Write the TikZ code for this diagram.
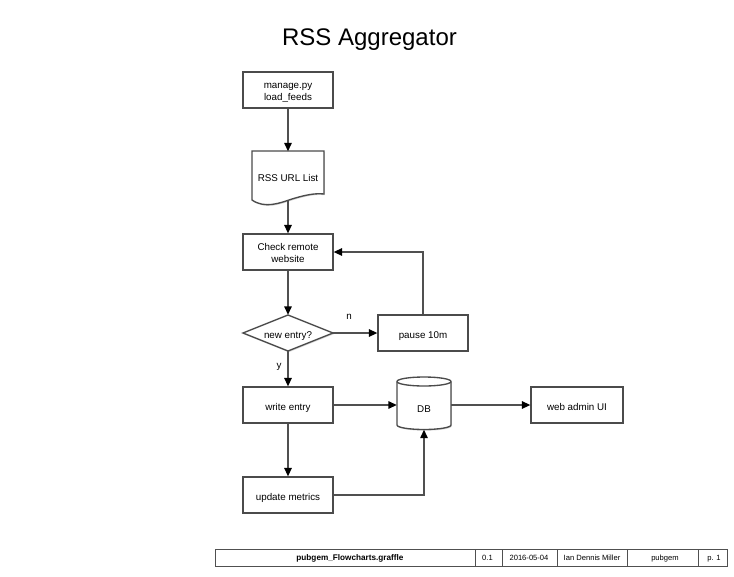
\documentclass[tikz,border=0pt]{standalone}
\usepackage{fontspec}
\setmainfont{Liberation Sans}
\usetikzlibrary{arrows.meta,shadows}
\definecolor{lc}{RGB}{80,80,80}
\definecolor{bc}{RGB}{75,75,75}
\newcommand{\fsn}{\fontsize{9.8}{11.5}\selectfont}
\newcommand{\fsf}{\fontsize{7.6}{10}\selectfont}
\newcommand{\fsb}{\fontsize{8.2}{10}\selectfont\bfseries}
\newcommand{\twol}[2]{\begin{tabular}[t]{@{}c@{}}#1\\#2\end{tabular}}
\begin{document}
\begin{tikzpicture}[x=1pt,y=-1pt,
  conn/.style={draw=lc, line width=1.4pt, -{Triangle[length=8.5pt,width=7.5pt,color=black]}},
  shad/.style={drop shadow={shadow xshift=0.8pt, shadow yshift=-1.2pt, opacity=0.3, fill=gray}},
  oneline/.style={text height=11pt, text depth=0pt},
  twoline/.style={text height=0pt, text depth=3pt},
  box/.style={draw=bc, line width=1.25pt, fill=white, minimum width=90pt, minimum height=36pt,
    inner sep=0pt, align=center, font=\fsn, shad, oneline},
  shapeline/.style={draw=bc, line width=1.35pt, fill=white, shad},
  ghost/.style={draw=none, inner sep=0pt, align=center, font=\fsn, oneline},
  lbl/.style={font=\fsn, inner sep=1pt},
  cell/.style={font=\fsf, inner sep=0pt, anchor=base}]
\useasboundingbox (0,0) rectangle (734,576);

% title
\node[anchor=base, font=\fontsize{24}{28}\selectfont, inner sep=0pt] (title) at (369.5,45.5) {RSS Aggregator};

% manage.py
\node[box, twoline] (manage) at (288,90) {\twol{manage.py}{load\_feeds}};

% document shape
\path[shapeline] (252,151) -- (324,151) -- (324,194)
  .. controls (315,193) and (305,195) .. (292,199)
  .. controls (280,203) and (265,209) .. (252,200) -- cycle;
\node[ghost, minimum width=72pt, minimum height=49pt] (doc) at (288,176) {RSS URL List};
\coordinate (docb) at (288,200.5);

% check remote
\node[box, twoline] (check) at (288,252) {\twol{Check remote}{website}};

% decision diamond
\path[shapeline] (243,333) -- (288,315) -- (333,333) -- (288,351) -- cycle;
\node[ghost, minimum width=90pt, minimum height=36pt] (dec) at (288,333) {new entry?};

% pause
\node[box] (pause) at (423,333) {pause 10m};

% write entry
\node[box] (write) at (288,405) {write entry};

% update metrics
\node[box] (update) at (288,495) {update metrics};

% DB cylinder
\path[shapeline] (397,381.5) -- (397,425) arc (180:360:27pt and 4.5pt)
  -- (451,381.5) arc (0:180:27pt and 4.5pt) -- cycle;
\draw[draw=bc, line width=1.35pt] (397,381.5) arc (180:360:27pt and 4.5pt);
\node[ghost, minimum width=54pt, minimum height=49pt] (db) at (424,405) {};
\node[ghost] (dbtext) at (424,406.5) {DB};

% web admin
\node[box, minimum width=92pt] (web) at (577,405) {web admin UI};

% connectors
\draw[conn] (manage.south) -- (doc.north);
\draw[conn] (docb) -- (check.north);
\draw[conn] (check.south) -- (dec.north);
\draw[conn] (dec.east) -- (pause.west);
\draw[conn] (pause.north) |- (check.east);
\draw[conn] (dec.south) -- (write.north);
\draw[conn] (write.east) -- (db.west |- write.east);
\draw[conn] (db.east |- web.west) -- (web.west);
\draw[conn] (write.south) -- (update.north);
\draw[conn] (update.east) -| (db.south);

% labels
\node[lbl] (nlab) at (349,316.5) {n};
\node[lbl] (ylab) at (279,367) {y};

% footer
\draw[draw=lc, line width=0.6pt] (215,549) rectangle (727,566);
\foreach \xx in {475,502,557,627,698} {\draw[draw=lc, line width=0.6pt] (\xx,549) -- (\xx,566);}
\node[cell, font=\fsb] (f1) at (350,560.5) {pubgem\_Flowcharts.graffle};
\node[cell] (f2) at (487.5,560.5) {0.1};
\node[cell] (f3) at (529,560.5) {2016-05-04};
\node[cell] (f4) at (592,560.5) {Ian Dennis Miller};
\node[cell] (f5) at (665,560.5) {pubgem};
\node[cell] (f6) at (714,560.5) {p. 1};
\end{tikzpicture}
\end{document}
